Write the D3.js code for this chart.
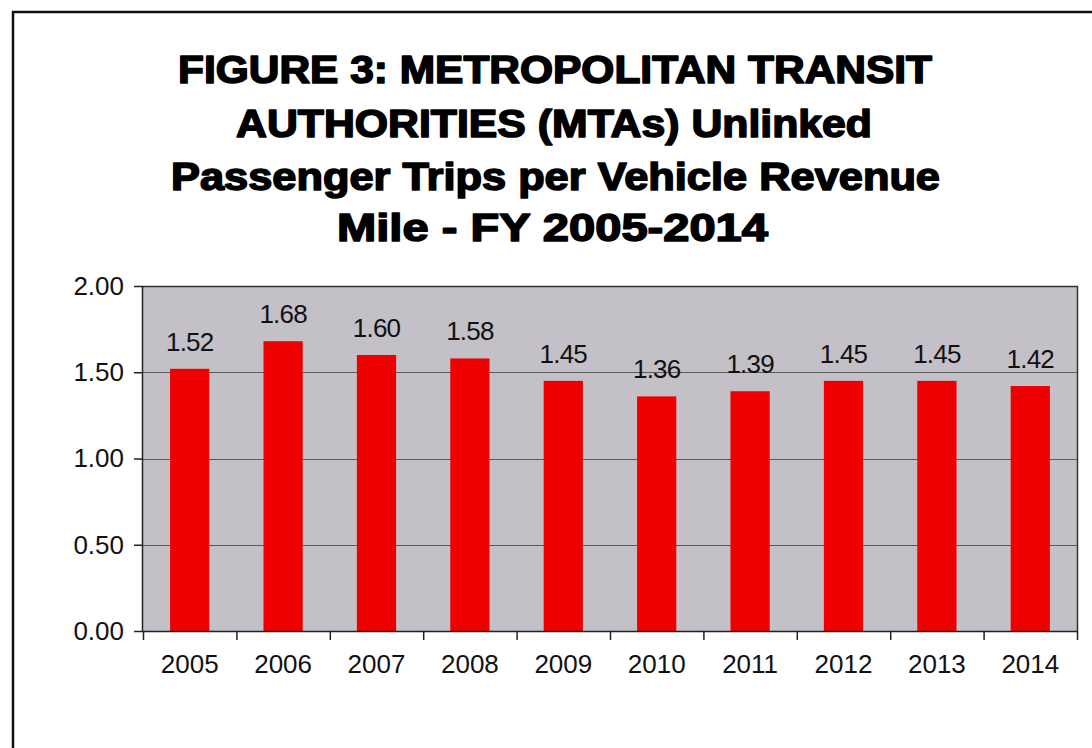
<!DOCTYPE html>
<html>
<head>
<meta charset="utf-8">
<script src="https://cdn.jsdelivr.net/npm/d3@7"></script>
<style>
  html, body { margin: 0; padding: 0; background: #fff; }
  svg { display: block; }
</style>
</head>
<body>
<div id="chart"></div>
<script>
// MTA unlinked passenger trips per vehicle revenue mile, FY 2005-2014

var years  = ["2005", "2006", "2007", "2008", "2009", "2010", "2011", "2012", "2013", "2014"];
var values = [1.52, 1.68, 1.60, 1.58, 1.45, 1.36, 1.39, 1.45, 1.45, 1.42];
var yTicks = [0, 0.5, 1.0, 1.5, 2.0];

var titleLines = [
  "FIGURE 3: METROPOLITAN TRANSIT",
  "AUTHORITIES (MTAs) Unlinked",
  "Passenger Trips per Vehicle Revenue",
  "Mile - FY 2005-2014"
];

(function () {
  var W = 1092, H = 748;

  var plot = { left: 143, right: 1077, top: 286, bottom: 631 };

  var svg = d3.select("#chart").append("svg")
    .attr("width", W)
    .attr("height", H);

  svg.append("rect")
    .attr("width", W).attr("height", H)
    .attr("fill", "#fff");

  // outer frame (runs off the right and bottom edges)
  svg.append("path")
    .attr("d", "M13," + (H + 5) + "V12H" + (W + 5))
    .attr("fill", "none")
    .attr("stroke", "#111")
    .attr("stroke-width", 2.5);

  // ── Title ──────────────────────────────────────────────────────────────────
  // [left, right, baseline] of each line in the reference; the face is squeezed
  // into those widths to get the condensed heavy look
  var titleBox = [[178, 932, 83], [236, 872, 137], [171, 940, 190], [337, 768, 241]];

  svg.append("g")
    .selectAll("text")
    .data(titleLines)
    .join("text")
    .attr("x", function (d, i) { return titleBox[i][0]; })
    .attr("y", function (d, i) { return titleBox[i][2]; })
    .attr("textLength", function (d, i) { return titleBox[i][1] - titleBox[i][0]; })
    .attr("lengthAdjust", "spacingAndGlyphs")
    .attr("font-family", "'Liberation Sans', Arial, sans-serif")
    .attr("font-weight", "bold")
    .attr("font-size", 39)
    .attr("fill", "#000")
    .attr("stroke", "#000")
    .attr("stroke-width", 1.6)
    .attr("stroke-linejoin", "round")
    .text(function (d) { return d; });

  // ── Scales ─────────────────────────────────────────────────────────────────
  var x = d3.scaleBand()
    .domain(years)
    .range([plot.left, plot.right])
    .paddingInner(0.58)
    .paddingOuter(0.29);

  var y = d3.scaleLinear()
    .domain([0, 2])
    .range([plot.bottom, plot.top]);

  var font = "'Liberation Sans', Arial, sans-serif";

  // plot background
  svg.append("rect")
    .attr("x", plot.left)
    .attr("y", plot.top)
    .attr("width", plot.right - plot.left)
    .attr("height", plot.bottom - plot.top)
    .attr("fill", "#c3c0c7");

  // gridlines
  svg.append("g")
    .selectAll("line")
    .data(yTicks.filter(function (t) { return t > 0 && t < 2; }))
    .join("line")
    .attr("x1", plot.left).attr("x2", plot.right)
    .attr("y1", function (d) { return Math.round(y(d)) + 0.5; })
    .attr("y2", function (d) { return Math.round(y(d)) + 0.5; })
    .attr("stroke", "#5a5a5e")
    .attr("stroke-width", 1);

  // bars
  svg.append("g")
    .selectAll("rect")
    .data(values)
    .join("rect")
    .attr("x", function (d, i) { return x(years[i]); })
    .attr("y", function (d) { return y(d); })
    .attr("width", x.bandwidth())
    .attr("height", function (d) { return y(0) - y(d); })
    .attr("fill", "#ee0000");

  // plot frame (top + right)
  svg.append("path")
    .attr("d", "M" + plot.left + "," + (plot.top + 0.5) + "H" + (plot.right + 0.5) + "V" + plot.bottom)
    .attr("fill", "none")
    .attr("stroke", "#333")
    .attr("stroke-width", 1.5);

  // value labels
  svg.append("g")
    .selectAll("text")
    .data(values)
    .join("text")
    .attr("x", function (d, i) { return x(years[i]) + x.bandwidth() / 2; })
    .attr("y", function (d) { return y(d) - 18; })
    .attr("text-anchor", "middle")
    .attr("font-family", font)
    .attr("font-size", 26)
    .attr("letter-spacing", -0.8)
    .attr("fill", "#111")
    .text(function (d) { return d.toFixed(2); });

  // ── Axes ───────────────────────────────────────────────────────────────────
  var yAxis = svg.append("g")
    .attr("transform", "translate(" + plot.left + ",0)")
    .call(d3.axisLeft(y)
      .tickValues(yTicks)
      .tickSize(9)
      .tickPadding(10)
      .tickFormat(d3.format(".2f")));

  var xAxis = svg.append("g")
    .attr("transform", "translate(0," + plot.bottom + ")")
    .call(d3.axisBottom(d3.scalePoint().domain(d3.range(11)).range([plot.left, plot.right]))
      .tickSize(9)
      .tickFormat(""));

  xAxis.append("g")
    .selectAll("text")
    .data(years)
    .join("text")
    .attr("x", function (d) { return x(d) + x.bandwidth() / 2; })
    .attr("y", 42)
    .attr("text-anchor", "middle")
    .attr("font-family", font)
    .attr("font-size", 26)
    .attr("fill", "#111")
    .text(function (d) { return d; });

  [yAxis, xAxis].forEach(function (ax) {
    ax.select(".domain").attr("stroke", "#222").attr("stroke-width", 1.5);
    ax.selectAll(".tick line").attr("stroke", "#222").attr("stroke-width", 1.5);
  });
  yAxis.select(".domain").attr("d", "M-0.5," + plot.top + "V" + plot.bottom);
  xAxis.select(".domain").attr("d", "M" + plot.left + ",0.5H" + plot.right);

  yAxis.selectAll(".tick text")
    .attr("font-family", font)
    .attr("font-size", 26)
    .attr("fill", "#111");
})();
</script>
</body>
</html>
